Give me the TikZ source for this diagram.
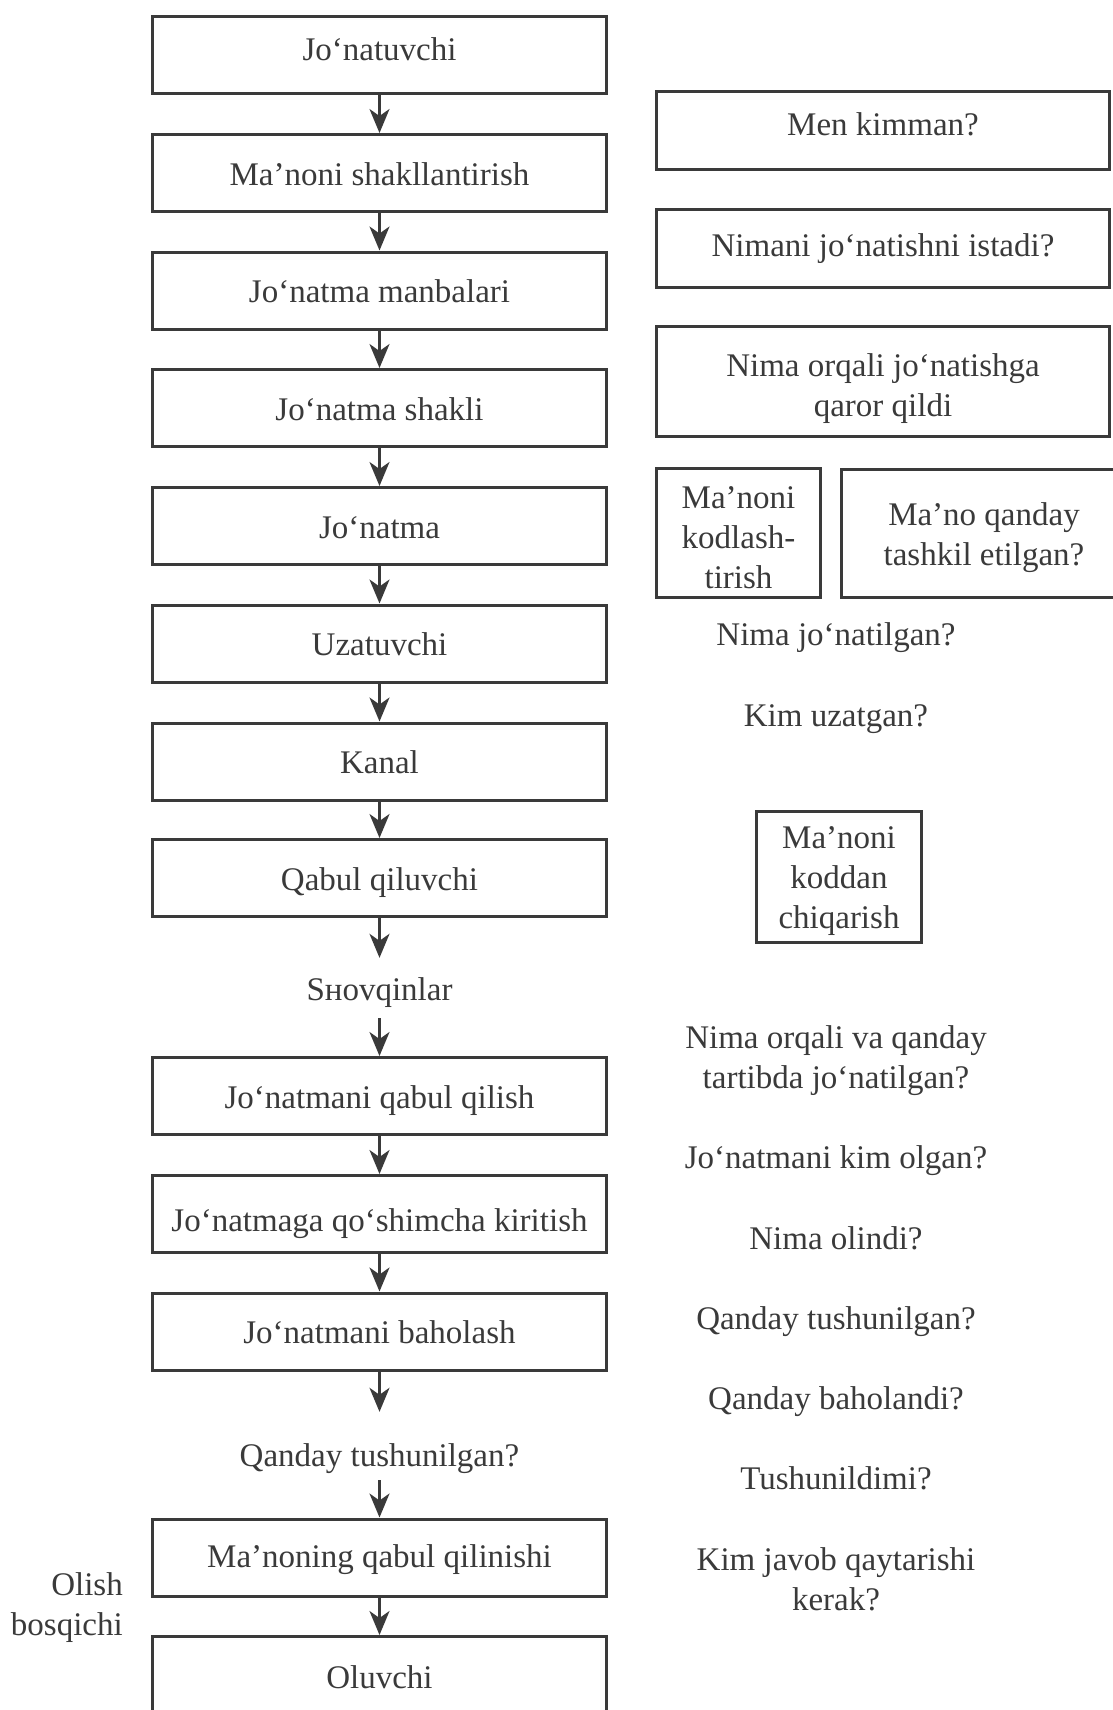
\documentclass[tikz,border=0pt]{standalone}
\usepackage{fontspec}
\setmainfont{Liberation Serif}
\usetikzlibrary{arrows.meta}
\definecolor{ink}{HTML}{3A3A3A}
% invisible strut that sets the height of a first text line
\newcommand{\firstline}[1]{\rule{0pt}{#1}}
\begin{document}
\begin{tikzpicture}[x=1pt,y=-1pt,
  font=\fontsize{33}{40}\selectfont,
  every node/.style={text=ink},
  box/.style={draw=ink, line width=3pt, minimum width=454pt, minimum height=77pt,
              inner sep=0pt, align=center, text height=31pt, text depth=7pt},
  qbox/.style={draw=ink, line width=3pt, inner sep=0pt, align=center},
  lbl/.style={inner sep=0pt, align=center, text height=22pt, text depth=7pt},
  note/.style={inner sep=0pt, align=center},
  arr/.style={draw=ink, line width=2.5pt, -{Stealth[length=24pt,width=20pt,inset=7pt]}}
]
\useasboundingbox (0,0) rectangle (1113,1710);
\clip (0,0) rectangle (1113,1710);

% main chain of stages
\node[box, text height=19pt] (b1)  at (379.5,55)    {Jo‘natuvchi};
\node[box] (b2)  at (379.5,173)   {Ma’noni shakllantirish};
\node[box] (b3)  at (379.5,290.5) {Jo‘natma manbalari};
\node[box] (b4)  at (379.5,408)   {Jo‘natma shakli};
\node[box] (b5)  at (379.5,526)   {Jo‘natma};
\node[box] (b6)  at (379.5,643.5) {Uzatuvchi};
\node[box] (b7)  at (379.5,761.5) {Kanal};
\node[box] (b8)  at (379.5,878)   {Qabul qiluvchi};
\node[lbl, anchor=base] (noise) at (379.5,1000) {Sнovqinlar};
\node[box, text height=32pt] (b9)  at (379.5,1096)  {Jo‘natmani qabul qilish};
\node[box, text height=42pt] (b10) at (379.5,1214)  {Jo‘natmaga qo‘shimcha kiritish};
\node[box] (b11) at (379.5,1331.5){Jo‘natmani baholash};
\node[lbl, anchor=base] (underst) at (379.5,1466) {Qanday tushunilgan?};
\node[box, text height=26pt] (b12) at (379.5,1557.5){Ma’noning qabul qilinishi};
\node[box, text height=33pt] (b13) at (379.5,1675)  {Oluvchi};

\node[note, align=right, anchor=east] (stage) at (123,1608) {Olish\\bosqichi};

% arrows between stages
\foreach \a/\b in {b1/b2,b2/b3,b3/b4,b4/b5,b5/b6,b6/b7,b7/b8,b9/b10,b10/b11,b12/b13}
  \draw[arr] (\a.south) -- (\b.north);
\draw[arr, shorten >=20pt] (b8.south) -- (noise.north);
\draw[arr, shorten <=11pt] (noise.south) -- (b9.north);
\draw[arr, shorten >=32pt] (b11.south) -- (underst.north);
\draw[arr, shorten <=7pt] (underst.south) -- (b12.north);

% questions on the right
\node[qbox, minimum width=453pt, minimum height=78pt, text height=16pt, text depth=7pt]
  (q1) at (883,130.5) {Men kimman?};
\node[qbox, minimum width=453pt, minimum height=78pt, text height=23pt, text depth=7pt]
  (q2) at (883,248.5) {Nimani jo‘natishni istadi?};
\node[qbox, minimum width=453pt, minimum height=110pt]
  (q3) at (883,381.5) {\firstline{38pt}Nima orqali jo‘natishga\\qaror qildi};
\node[qbox, minimum width=164pt, minimum height=129pt]
  (q4) at (738.5,532.5) {\firstline{32pt}Ma’noni\\kodlash-\\tirish};
\node[qbox, minimum width=285pt, minimum height=128pt]
  (q5) at (984,533.5) {\firstline{31pt}Ma’no qanday\\tashkil etilgan?};
\node[qbox, minimum width=165pt, minimum height=131pt]
  (q6) at (839,877) {\firstline{30pt}Ma’noni\\koddan\\chiqarish};

\node[note] (t1) at (836,638)  {Nima jo‘natilgan?};
\node[note] (t2) at (836,719)  {Kim uzatgan?};
\node[note] (t3) at (836,1061) {Nima orqali va qanday\\tartibda jo‘natilgan?};
\node[note] (t4) at (836,1161) {Jo‘natmani kim olgan?};
\node[note] (t5) at (836,1238) {Nima olindi?};
\node[note] (t6) at (836,1322) {Qanday tushunilgan?};
\node[note] (t7) at (836,1402) {Qanday baholandi?};
\node[note] (t8) at (836,1478) {Tushunildimi?};
\node[note] (t9) at (836,1579) {Kim javob qaytarishi\\kerak?};
\end{tikzpicture}
\end{document}
